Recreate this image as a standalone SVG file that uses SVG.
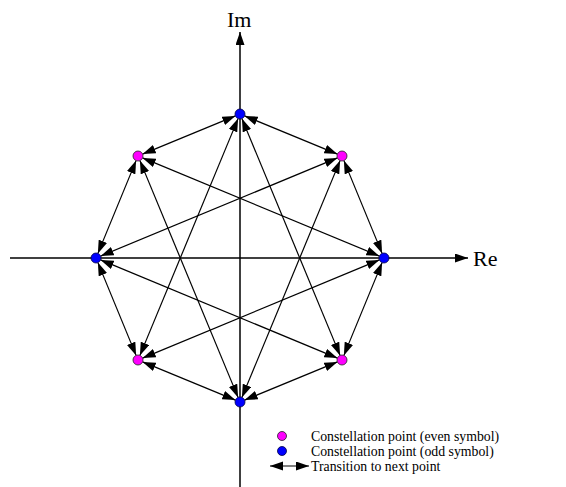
<svg xmlns="http://www.w3.org/2000/svg" width="566" height="487" viewBox="0 0 566 487">
<style>
.ax{stroke:#000;stroke-width:1.5;fill:none}
.tr{stroke:#000;stroke-width:1.2;fill:none;marker-start:url(#ah);marker-end:url(#ah)}
.lbl{font-family:"Liberation Serif","Times New Roman",serif;fill:#000}
.even{fill:#ff00ff;stroke:#222;stroke-width:0.8}
.odd{fill:#0000ff;stroke:#000044;stroke-width:0.8}
</style>
<defs>
<marker id="ah" markerUnits="userSpaceOnUse" markerWidth="14" markerHeight="10" refX="13" refY="4.5" orient="auto-start-reverse" viewBox="0 0 14 10">
<path d="M0,0 L13,4.5 L0,9 z" fill="#000"/>
</marker>
<marker id="axh" markerUnits="userSpaceOnUse" markerWidth="14" markerHeight="10" refX="13" refY="4.5" orient="auto" viewBox="0 0 14 10">
<path d="M0,0 L13,4.5 L0,9 z" fill="#000"/>
</marker>
</defs>
<g id="axes">
<line class="ax" x1="240" y1="487" x2="240" y2="32" marker-end="url(#axh)"/>
<line class="ax" x1="10" y1="258" x2="468" y2="258" marker-end="url(#axh)"/>
<text class="lbl" x="227" y="27" font-size="22">Im</text>
<text class="lbl" x="473" y="266" font-size="22">Re</text>
</g>
<g id="connectors">
<line class="tr" x1="142.62" y1="154.10" x2="235.38" y2="115.90"/>
<line class="tr" x1="142.62" y1="157.92" x2="379.38" y2="256.08"/>
<line class="tr" x1="139.92" y1="160.62" x2="238.08" y2="397.38"/>
<line class="tr" x1="136.10" y1="160.62" x2="97.90" y2="253.38"/>
<line class="tr" x1="337.38" y1="154.10" x2="244.62" y2="115.90"/>
<line class="tr" x1="343.90" y1="160.62" x2="382.10" y2="253.38"/>
<line class="tr" x1="340.08" y1="160.62" x2="241.92" y2="397.38"/>
<line class="tr" x1="337.38" y1="157.92" x2="100.62" y2="256.08"/>
<line class="tr" x1="343.90" y1="355.38" x2="382.10" y2="262.62"/>
<line class="tr" x1="337.38" y1="361.90" x2="244.62" y2="400.10"/>
<line class="tr" x1="340.08" y1="355.38" x2="241.92" y2="118.62"/>
<line class="tr" x1="337.38" y1="358.08" x2="100.62" y2="259.92"/>
<line class="tr" x1="142.62" y1="361.90" x2="235.38" y2="400.10"/>
<line class="tr" x1="136.10" y1="355.38" x2="97.90" y2="262.62"/>
<line class="tr" x1="139.92" y1="355.38" x2="238.08" y2="118.62"/>
<line class="tr" x1="142.62" y1="358.08" x2="379.38" y2="259.92"/>
</g>
<g id="b0"><circle class="odd" cx="240" cy="114" r="5"/></g>
<g id="b1"><circle class="odd" cx="384" cy="258" r="5"/></g>
<g id="b2"><circle class="odd" cx="240" cy="402" r="5"/></g>
<g id="b3"><circle class="odd" cx="96" cy="258" r="5"/></g>
<g id="m0"><circle class="even" cx="342" cy="156" r="5"/></g>
<g id="m1"><circle class="even" cx="138" cy="156" r="5"/></g>
<g id="m2"><circle class="even" cx="138" cy="360" r="5"/></g>
<g id="m3"><circle class="even" cx="342" cy="360" r="5"/></g>
<g id="legend">
<circle class="even" cx="282" cy="436" r="4.5"/>
<text class="lbl" x="311" y="441" font-size="13.8">Constellation point (even symbol)</text>
<circle class="odd" cx="282" cy="451" r="4.5"/>
<text class="lbl" x="311" y="456" font-size="13.8">Constellation point (odd symbol)</text>
<line class="tr" x1="270" y1="466" x2="309" y2="466"/>
<text class="lbl" x="311" y="471" font-size="13.8">Transition to next point</text>
</g>
</svg>
